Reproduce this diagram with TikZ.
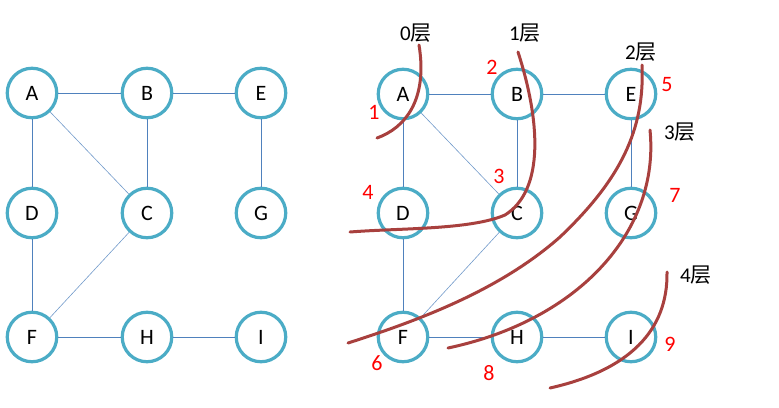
\documentclass[tikz,border=0pt]{standalone}
\usepackage{fontspec}
\setmainfont{Carlito}
\newfontfamily\cjk{Noto Sans CJK SC}
\definecolor{ring}{HTML}{4BACC6}
\definecolor{edgec}{HTML}{4F81BD}
\definecolor{cut}{HTML}{A8403E}
\definecolor{num}{HTML}{FF0000}
\tikzset{
  vtx/.style={circle,draw=ring,line width=3.2pt,minimum size=49.5pt,inner sep=0pt,fill=white,font=\fontsize{22}{22}\selectfont},
  lnk/.style={draw=edgec,line width=1pt},
  thin/.style={draw=edgec!80,line width=0.6pt},
  cutline/.style={draw=cut,line width=3pt,line cap=round},
  lvl/.style={font=\fontsize{21}{21}\selectfont,text=black,inner sep=0pt},
  ord/.style={font=\fontsize{22}{22}\selectfont,text=num,inner sep=0pt}
}
\begin{document}
\begin{tikzpicture}[x=1pt,y=-1pt]
\useasboundingbox (0,0) rectangle (779,407);
% left graph
\node[vtx] (lA) at (32,93) {A};
\node[vtx] (lB) at (147,93) {B};
\node[vtx] (lE) at (261,93) {E};
\node[vtx] (lD) at (32,213) {D};
\node[vtx] (lC) at (147,213) {C};
\node[vtx] (lG) at (261,213) {G};
\node[vtx] (lF) at (32,337) {F};
\node[vtx] (lH) at (147,337) {H};
\node[vtx] (lI) at (261,337) {I};
\draw[lnk] (lA) -- (lB);
\draw[lnk] (lB) -- (lE);
\draw[lnk] (lA) -- (lD);
\draw[lnk] (lB) -- (lC);
\draw[lnk] (lE) -- (lG);
\draw[lnk] (lD) -- (lF);
\draw[lnk] (lF) -- (lH);
\draw[lnk] (lH) -- (lI);
\draw[thin] (lA) -- (lC);
\draw[thin] (lC) -- (lF);
% right graph
\node[vtx] (rA) at (403,94) {A};
\node[vtx] (rB) at (517,94) {B};
\node[vtx] (rE) at (631,94) {E};
\node[vtx] (rD) at (403,213) {D};
\node[vtx] (rC) at (517,213) {C};
\node[vtx] (rG) at (631,213) {G};
\node[vtx] (rF) at (403,337) {F};
\node[vtx] (rH) at (517,337) {H};
\node[vtx] (rI) at (631,337) {I};
\draw[lnk] (rA) -- (rB);
\draw[lnk] (rB) -- (rE);
\draw[lnk] (rA) -- (rD);
\draw[lnk] (rB) -- (rC);
\draw[lnk] (rE) -- (rG);
\draw[lnk] (rD) -- (rF);
\draw[lnk] (rF) -- (rH);
\draw[lnk] (rH) -- (rI);
\draw[thin] (rA) -- (rC);
\draw[thin] (rC) -- (rF);
% level labels
\node[lvl] (L0) at (416,33) {0{\cjk 层}};
\node[lvl] (L1) at (525,33) {1{\cjk 层}};
\node[lvl] (L2) at (641,52) {2{\cjk 层}};
\node[lvl] (L3) at (680,132) {3{\cjk 层}};
\node[lvl] (L4) at (696,275) {4{\cjk 层}};
% visit order
\node[ord] (n1) at (374,112) {1};
\node[ord] (n2) at (492,67) {2};
\node[ord] (n3) at (499,176) {3};
\node[ord] (n4) at (368,192) {4};
\node[ord] (n5) at (667,85) {5};
\node[ord] (n6) at (377,363) {6};
\node[ord] (n7) at (675,195) {7};
\node[ord] (n8) at (489,373) {8};
\node[ord] (n9) at (670,344) {9};
% cut curves
\coordinate (c0s) at (419,45); \coordinate (c0e) at (377,138);
\draw[cutline] (c0s) .. controls (428,100) and (405,128) .. (c0e);
\coordinate (c1s) at (518,52); \coordinate (c1m) at (505,215); \coordinate (c1e) at (350,232);
\draw[cutline] (c1s) .. controls (540,120) and (545,190) .. (c1m) .. controls (470,230) and (400,228) .. (c1e);
\coordinate (c2s) at (642,65); \coordinate (c2m) at (560,237); \coordinate (c2e) at (348,343);
\draw[cutline] (c2s) .. controls (645,130) and (620,180) .. (c2m) .. controls (500,290) and (420,320) .. (c2e);
\coordinate (c3s) at (650,130); \coordinate (c3e) at (448,348);
\draw[cutline] (c3s) .. controls (660,230) and (580,320) .. (c3e);
\coordinate (c4s) at (667,272); \coordinate (c4e) at (550,388);
\draw[cutline] (c4s) .. controls (668,330) and (630,370) .. (c4e);
\end{tikzpicture}
\end{document}
